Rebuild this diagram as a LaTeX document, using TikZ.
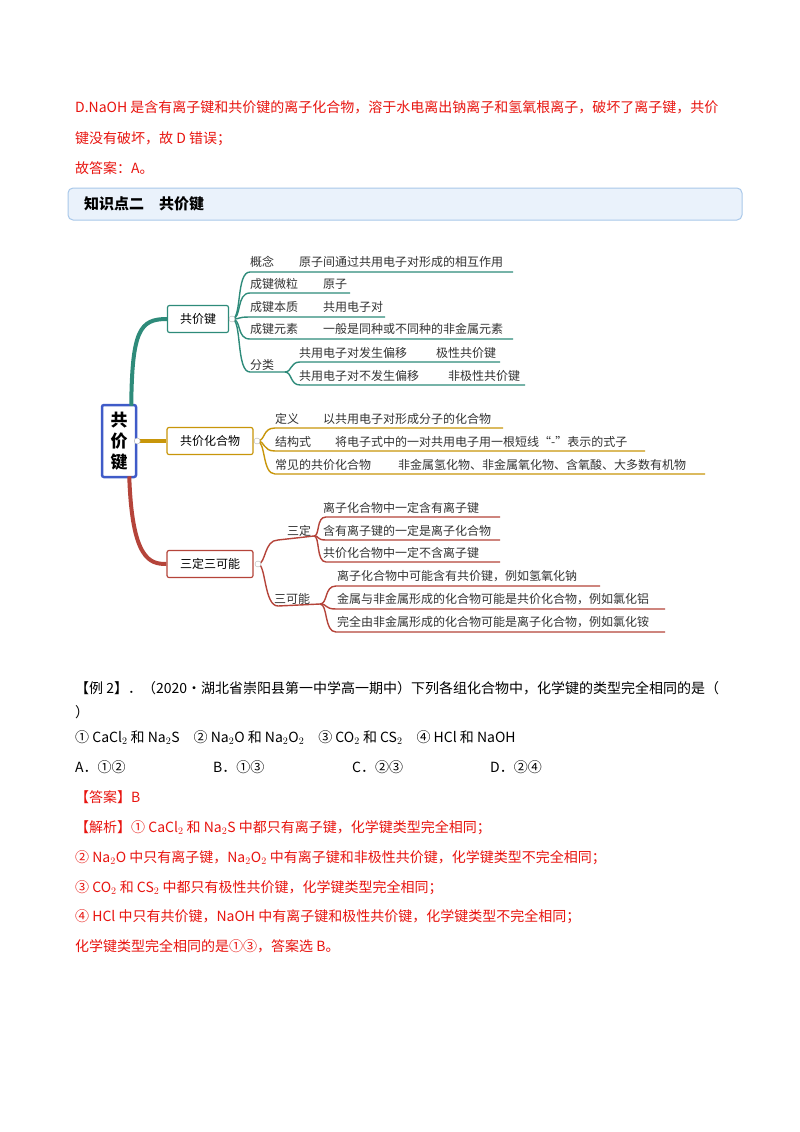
\documentclass[tikz,border=0pt]{standalone}
\usepackage{fontspec}
\setmainfont{Noto Sans CJK SC}
\definecolor{tealc}{HTML}{2E8B7A}
\definecolor{goldc}{HTML}{C8960A}
\definecolor{redc}{HTML}{B5443A}
\definecolor{txtred}{HTML}{E8140F}
\definecolor{hdrfill}{HTML}{EAF2FB}
\definecolor{hdrline}{HTML}{A9C8EA}
\definecolor{rootblue}{HTML}{3F5BC8}
\begin{document}
\begin{tikzpicture}[x=1pt,y=-1pt,
  body/.style={anchor=base west,inner sep=0pt,font=\fontsize{14}{16}\selectfont},
  redtxt/.style={body,text=txtred},
  mm/.style={anchor=base west,inner sep=0pt,font=\fontsize{12}{14}\selectfont,text=black!80},
  mmbox/.style={draw=#1,line width=1.2pt,rounded corners=2pt,fill=white,minimum width=86pt,minimum height=27pt,font=\fontsize{12}{14}\selectfont},
  dot/.style={circle,draw=gray!60,fill=white,inner sep=0pt,minimum size=6pt}]
\useasboundingbox (0,0) rectangle (800,1132);
\fill[white] (0,0) rectangle (800,1132);
% top text
\node[redtxt] (t1) at (75,112) {D.NaOH 是含有离子键和共价键的离子化合物，溶于水电离出钠离子和氢氧根离子，破坏了离子键，共价};
\node[redtxt] (t2) at (75,143) {键没有破坏，故 D 错误；};
\node[redtxt] (t3) at (75,173) {故答案：A。};
\node[draw=hdrline,fill=hdrfill,rounded corners=5pt,minimum width=674pt,minimum height=32pt,line width=1pt] (hdr) at (405,204) {};
\node[body,font=\fontsize{15}{17}\selectfont\bfseries] (hdrt) at (84,209) {知识点二\quad 共价键};
% root
\node[draw=rootblue,line width=2.5pt,rounded corners=2pt,fill=white,minimum width=34pt,minimum height=72pt,align=center,font=\fontsize{17}{21}\selectfont\bfseries] (root) at (119,441) {共\\价\\键};
% branch boxes
\node[mmbox=tealc,minimum width=61pt] (b1) at (198,319) {共价键};
\node[mmbox=goldc] (b2) at (210,441) {共价化合物};
\node[mmbox=redc] (b3) at (210,564) {三定三可能};
\draw[tealc,line width=4pt] (root.north east)++(-6,2) coordinate (r1) .. controls (132,330) and (140,319) .. (b1.west);
\draw[goldc,line width=3.5pt] (root.east) -- (b2.west);
\draw[redc,line width=4pt] (root.south east)++(-8,-2) coordinate (r3) .. controls (132,560) and (150,564) .. (b3.west);
\node[dot] (d2) at (root.east) {};
% branch 1
\coordinate (j1) at (232,319);
\foreach \y/\e in {272/513,293/350,317/385,339/513}{
  \draw[tealc,line width=1.4pt] (j1) .. controls (242,319) and (236,\y) .. (250,\y) -- (\e,\y);}
\draw[tealc,line width=1.4pt] (j1) .. controls (242,319) and (236,372) .. (250,372) -- (285,372);
\node[mm] (k1) at (250,266) {概念};
\node[mm] (v1) at (299,266) {原子间通过共用电子对形成的相互作用};
\node[mm] (k2) at (250,288) {成键微粒};
\node[mm] (v2) at (323,288) {原子};
\node[mm] (k3) at (250,311) {成键本质};
\node[mm] (v3) at (323,311) {共用电子对};
\node[mm] (k4) at (250,333) {成键元素};
\node[mm] (v4) at (323,333) {一般是同种或不同种的非金属元素};
\node[mm] (k5) at (250,369) {分类};
\coordinate (j5) at (285,372);
\draw[tealc,line width=1.4pt] (j5) .. controls (292,372) and (290,362) .. (300,362) -- (500,362);
\draw[tealc,line width=1.4pt] (j5) .. controls (292,372) and (290,385) .. (300,385) -- (525,385);
\node[mm] (c1) at (299,357) {共用电子对发生偏移};
\node[mm] (c1v) at (436,357) {极性共价键};
\node[mm] (c2) at (299,380) {共用电子对不发生偏移};
\node[mm] (c2v) at (448,380) {非极性共价键};
\node[dot] (d1) at (j1) {};
% branch 2
\coordinate (j2) at (257,441);
\draw[goldc,line width=1.4pt] (j2) .. controls (266,441) and (262,428) .. (275,428) -- (503,428);
\draw[goldc,line width=1.4pt] (j2) .. controls (266,441) and (262,451) .. (275,451) -- (645,451);
\draw[goldc,line width=1.4pt] (j2) .. controls (266,441) and (262,474) .. (275,474) -- (705,474);
\node[mm] (g1) at (275,423) {定义};
\node[mm] (g1v) at (323,423) {以共用电子对形成分子的化合物};
\node[mm] (g2) at (275,446) {结构式};
\node[mm] (g2v) at (335,446) {将电子式中的一对共用电子用一根短线“-”表示的式子};
\node[mm] (g3) at (275,469) {常见的共价化合物};
\node[mm] (g3v) at (398,469) {非金属氢化物、非金属氧化物、含氧酸、大多数有机物};
\node[dot] (d3) at (j2) {};
% branch 3
\coordinate (j3) at (258,564);
\coordinate (j31) at (314,536);
\coordinate (j32) at (320,604);
\draw[redc,line width=1.4pt] (j3) .. controls (266,564) and (264,540) .. (278,540) -- (j31);
\draw[redc,line width=1.4pt] (j3) .. controls (266,564) and (264,606) .. (278,606) -- (j32);
\foreach \y in {517,540,562}{
  \draw[redc,line width=1.4pt] (j31) .. controls (320,536) and (316,\y) .. (326,\y) -- (500,\y);}
\draw[redc,line width=1.4pt] (j32) .. controls (328,604) and (324,586) .. (336,586) -- (600,586);
\draw[redc,line width=1.4pt] (j32) .. controls (328,604) and (324,609) .. (336,609) -- (665,609);
\draw[redc,line width=1.4pt] (j32) .. controls (328,604) and (324,632) .. (336,632) -- (665,632);
\node[mm] (s0) at (287,535) {三定};
\node[mm] (s1) at (323,512) {离子化合物中一定含有离子键};
\node[mm] (s2) at (323,535) {含有离子键的一定是离子化合物};
\node[mm] (s3) at (323,557) {共价化合物中一定不含离子键};
\node[mm] (p0) at (274,603) {三可能};
\node[mm] (p1) at (337,580) {离子化合物中可能含有共价键，例如氢氧化钠};
\node[mm] (p2) at (337,603) {金属与非金属形成的化合物可能是共价化合物，例如氯化铝};
\node[mm] (p3) at (337,626) {完全由非金属形成的化合物可能是离子化合物，例如氯化铵};
\node[dot] (d4) at (j3) {};
% example
\node[body] (e1) at (75,693) {【例 2】．（2020·湖北省崇阳县第一中学高一期中）下列各组化合物中，化学键的类型完全相同的是（};
\node[body] (e2) at (75,717) {）};
\node[body] (e3) at (75,742) {① CaCl$_2$ 和 Na$_2$S\quad ② Na$_2$O 和 Na$_2$O$_2$\quad ③ CO$_2$ 和 CS$_2$\quad ④ HCl 和 NaOH};
\node[body] (oA) at (75,772) {A．①②};
\node[body] (oB) at (213,772) {B．①③};
\node[body] (oC) at (352,772) {C．②③};
\node[body] (oD) at (490,772) {D．②④};
\node[redtxt] (a1) at (75,802) {【答案】B};
\node[redtxt] (a2) at (75,832) {【解析】① CaCl$_2$ 和 Na$_2$S 中都只有离子键，化学键类型完全相同；};
\node[redtxt] (a3) at (75,862) {② Na$_2$O 中只有离子键，Na$_2$O$_2$ 中有离子键和非极性共价键，化学键类型不完全相同；};
\node[redtxt] (a4) at (75,892) {③ CO$_2$ 和 CS$_2$ 中都只有极性共价键，化学键类型完全相同；};
\node[redtxt] (a5) at (75,921) {④ HCl 中只有共价键，NaOH 中有离子键和极性共价键，化学键类型不完全相同；};
\node[redtxt] (a6) at (75,951) {化学键类型完全相同的是①③，答案选 B。};
\end{tikzpicture}
\end{document}
